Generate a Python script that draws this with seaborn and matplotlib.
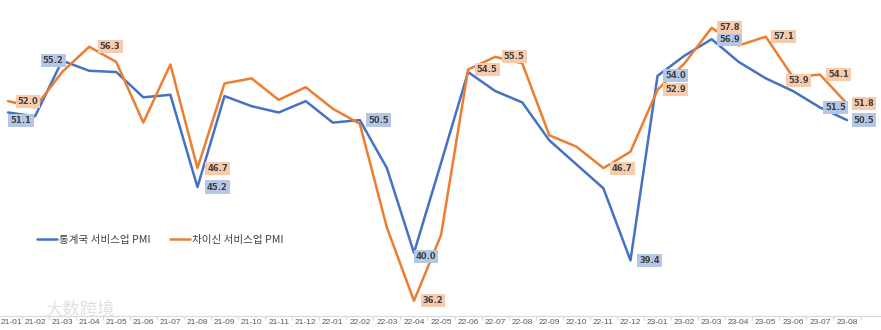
import numpy as np
import pandas as pd
import matplotlib
matplotlib.use("Agg")
import matplotlib.pyplot as plt
from matplotlib.ticker import FixedLocator
from matplotlib.transforms import ScaledTranslation
import seaborn as sns

# ---------------- data ----------------
months = ["21-01", "21-02", "21-03", "21-04", "21-05", "21-06", "21-07", "21-08",
          "21-09", "21-10", "21-11", "21-12", "22-01", "22-02", "22-03", "22-04",
          "22-05", "22-06", "22-07", "22-08", "22-09", "22-10", "22-11", "22-12",
          "23-01", "23-02", "23-03", "23-04", "23-05", "23-06", "23-07", "23-08"]
nbs_pmi = [51.1, 50.8, 55.2, 54.4, 54.3, 52.3, 52.5, 45.2, 52.4, 51.6, 51.1, 52.0,
           50.3, 50.5, 46.7, 40.0, 47.1, 54.3, 52.8, 51.9, 48.9, 47.0, 45.1, 39.4,
           54.0, 55.6, 56.9, 55.1, 53.8, 52.8, 51.5, 50.5]
caixin_pmi = [52.0, 51.5, 54.3, 56.3, 55.1, 50.3, 54.9, 46.7, 53.4, 53.8, 52.1, 53.1,
              51.4, 50.2, 42.0, 36.2, 41.4, 54.5, 55.5, 55.0, 49.3, 48.4, 46.7, 48.0,
              52.9, 55.0, 57.8, 56.4, 57.1, 53.9, 54.1, 51.8]
series_names = ["통계국 서비스업 PMI", "차이신 서비스업 PMI"]

# which points carry a data label
nbs_labeled = [0, 2, 7, 13, 15, 23, 24, 26, 30, 31]
caixin_labeled = [0, 3, 7, 15, 17, 18, 22, 24, 26, 28, 29, 30, 31]

# ---------------- styling / placement ----------------
blue = "#4472C4"
orange = "#ED7D31"
blue_box = "#B4C7E7"
orange_box = "#F8CBAD"
text_col = "#404040"

# label offsets in pixels (right, down)
nbs_offsets = {0: (13, 8), 2: (-9, 0), 7: (20, 0), 13: (19, 0), 15: (12, 4),
               23: (19, 0), 24: (18, 0), 26: (18, 0), 30: (16, 0), 31: (17, 0)}
caixin_offsets = {0: (20, 0), 3: (21, 0), 7: (20, 0), 15: (19, 0), 17: (19, 0),
                  18: (19, 0), 22: (19, 0), 24: (18, 0), 26: (18, 0), 28: (18, 0),
                  29: (6, 3), 30: (19, 0), 31: (17, 0)}

df = pd.DataFrame({
    "idx": list(range(len(months))) * 2,
    "value": nbs_pmi + caixin_pmi,
    "series": [series_names[0]] * len(months) + [series_names[1]] * len(months),
})

sns.set_theme(style="white")
plt.rcParams["font.family"] = ["DejaVu Sans"]

fig = plt.figure(figsize=(8.81, 3.30), dpi=100)
ax = fig.add_axes([0, 14 / 330, 1, 316 / 330])

sns.lineplot(data=df, x="idx", y="value", hue="series",
             palette=[blue, orange], linewidth=1.8, ax=ax, legend=True)

n = len(months)
ax.set_xlim(-8 / 27.06, (n - 1) + (881 - 847) / 27.06)
ax.set_ylim(35, 60)

# data labels
def put_labels(values, idxs, offs, boxcol):
    for i in idxs:
        dx, dy = offs[i]
        ax.annotate(f"{values[i]:.1f}", xy=(i, values[i]), xytext=(dx, -dy),
                    textcoords="offset pixels", ha="center", va="center",
                    fontsize=6, fontweight="bold", color=text_col,
                    bbox=dict(boxstyle="square,pad=0.25", fc=boxcol, ec="none"),
                    zorder=5)

put_labels(nbs_pmi, nbs_labeled, nbs_offsets, blue_box)
put_labels(caixin_pmi, caixin_labeled, caixin_offsets, orange_box)

# axes styling
for s in ["top", "left", "right"]:
    ax.spines[s].set_visible(False)
ax.spines["bottom"].set_color("#d9d9d9")
ax.spines["bottom"].set_linewidth(0.8)
ax.set_yticks([])
ax.set_xticks(range(n))
ax.set_xticklabels(months, fontsize=6, color="#595959", family="Liberation Sans")
ax.xaxis.set_minor_locator(FixedLocator(np.arange(-0.5, n, 1.0)))
ax.tick_params(axis="x", which="major", length=0, pad=2)
ax.tick_params(axis="x", which="minor", length=3, color="#d9d9d9", width=0.8,
               bottom=True)
ax.set_xlabel("")
ax.set_ylabel("")
ax.grid(False)

# keep the first tick label inside the figure (it hugs the left edge)
first = ax.get_xticklabels()[0]
first.set_horizontalalignment("left")
first.set_transform(first.get_transform() + ScaledTranslation(-0.07, 0, fig.dpi_scale_trans))

# legend
handles, labels = ax.get_legend_handles_labels()
leg = ax.legend(handles, labels, loc="center left",
                bbox_to_anchor=(37 / 881, 1 - 240 / 316), ncol=2, frameon=False,
                borderaxespad=0, borderpad=0, handlelength=1.85,
                handletextpad=0.2, columnspacing=1.9,
                prop={"family": ["Noto Sans CJK KR", "DejaVu Sans"], "size": 7.6})
for t in leg.get_texts():
    t.set_color(text_col)
for l in leg.get_lines():
    l.set_linewidth(1.8)

# watermark
fig.text(45 / 881, 1 - 309 / 330, "大数跨境", fontsize=12.5, color="#e0e0e0",
         family=["Noto Sans CJK SC", "DejaVu Sans"], va="center", ha="left",
         zorder=0)

fig.savefig("out.png", dpi=100)
